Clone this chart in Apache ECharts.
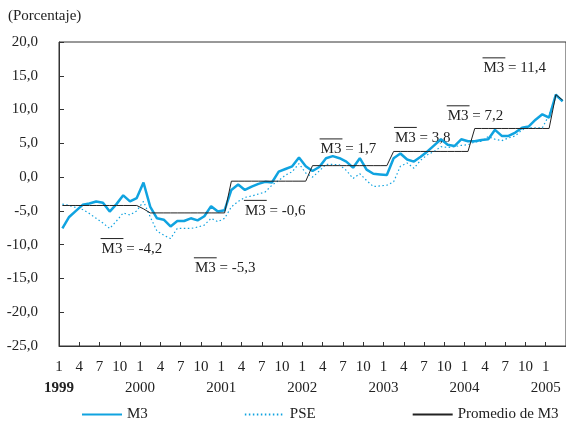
<!DOCTYPE html>
<html>
<head>
<meta charset="utf-8">
<script src="https://cdn.jsdelivr.net/npm/echarts@6/dist/echarts.min.js"></script>
<style>
  html, body { margin: 0; padding: 0; background: #fff; }
  #chart { width: 566px; height: 427px; }
</style>
</head>
<body>
<div id="chart"></div>
<script>
// Monthly growth rates, January 1999 to March 2005 (percent)
const years = ['1999', '2000', '2001', '2002', '2003', '2004', '2005'];

const m3 = [
  -7.6, -5.9, -5.0, -4.1, -3.9, -3.6, -3.8, -5.1, -4.0, -2.7, -3.6, -3.1,
  -0.8, -4.4, -6.1, -6.3, -7.3, -6.5, -6.5, -6.1, -6.4, -5.8, -4.3, -5.1,
  -4.9, -1.9, -1.1, -1.9, -1.4, -1.0, -0.7, -0.8, 0.8, 1.2, 1.6, 2.9,
  1.6, 0.9, 1.5, 2.8, 3.1, 2.8, 2.3, 1.4, 2.8, 1.1, 0.5, 0.4,
  0.3, 2.8, 3.5, 2.6, 2.3, 3.0, 3.8, 4.7, 5.6, 4.8, 4.6, 5.6,
  5.3, 5.3, 5.5, 5.6, 7.0, 6.1, 6.1, 6.6, 7.3, 7.5, 8.5, 9.3,
  8.8, 12.2, 11.2
];

const pse = [
  -4.0, -4.2, -4.5, -4.8, -5.4, -6.1, -6.8, -7.6, -6.5, -5.3, -5.6, -5.0,
  -3.6, -5.9, -8.0, -8.6, -9.1, -7.6, -7.6, -7.6, -7.4, -7.1, -6.1, -6.6,
  -6.1, -4.4, -3.6, -3.0, -2.8, -2.5, -2.2, -1.2, -0.5, 0.3, 0.8, 2.0,
  0.6, 0.0, 0.9, 1.9, 1.9, 1.8, 1.0, -0.2, 0.5, -0.5, -1.4, -1.3,
  -1.2, -0.7, 1.6, 2.1, 1.3, 2.5, 3.3, 3.8, 4.5, 4.4, 4.5, 4.7,
  4.8, 5.2, 5.3, 6.0, 5.6, 5.4, 5.8, 6.1, 7.0, 7.3, 7.3, 7.3,
  9.2, 11.9, 11.4
];

// Annual mean of M3, repeated over each month of the year
const promedio = [
  -4.2, -4.2, -4.2, -4.2, -4.2, -4.2, -4.2, -4.2, -4.2, -4.2, -4.2, -4.2,
  -4.7, -5.3, -5.3, -5.3, -5.3, -5.3, -5.3, -5.3, -5.3, -5.3, -5.3, -5.3,
  -5.3, -0.6, -0.6, -0.6, -0.6, -0.6, -0.6, -0.6, -0.6, -0.6, -0.6, -0.6,
  -0.6, 1.7, 1.7, 1.7, 1.7, 1.7, 1.7, 1.7, 1.7, 1.7, 1.7, 1.7,
  1.7, 3.8, 3.8, 3.8, 3.8, 3.8, 3.8, 3.8, 3.8, 3.8, 3.8, 3.8,
  3.8, 7.2, 7.2, 7.2, 7.2, 7.2, 7.2, 7.2, 7.2, 7.2, 7.2, 7.2,
  7.2, 12.2, 11.4
];

// Annual mean labels
const meanLabels = ['-4,2', '-5,3', '-0,6', '1,7', '3,8', '7,2', '11,4'];
// Where each mean label sits: [month on the axis, value]
const meanLabelAt = [
  [6.3, -10.65], [20.1, -13.5], [27.5, -5.0], [38.7, 4.1],
  [49.7, 5.8], [57.5, 9.0], [62.8, 16.1]
];

const FONT = '"Liberation Serif", "Times New Roman", serif';
const INK = '#222';
const BLUE = '#10a3e0';

const toPoints = arr => arr.map((v, i) => [i + 0.5, v]);
const comma1 = v => v.toFixed(1).replace('.', ',');

const chart = echarts.init(document.getElementById('chart'), null, { renderer: 'canvas' });

chart.setOption({
  animation: false,
  backgroundColor: '#fff',
  title: {
    text: '(Porcentaje)',
    left: 3, top: 4,
    textStyle: { fontFamily: FONT, fontSize: 15, fontWeight: 'normal', color: INK }
  },
  grid: {
    left: 59, right: -3, top: 42, bottom: 81,
    show: true, borderColor: '#333', borderWidth: 1, backgroundColor: 'transparent'
  },
  legend: {
    left: 76, top: 402,
    itemWidth: 40, itemHeight: 12, itemGap: 96,
    itemStyle: { opacity: 0 },
    textStyle: { fontFamily: FONT, fontSize: 15, color: INK },
    data: ['M3', 'PSE', 'Promedio de M3']
  },
  xAxis: [
    {
      type: 'value', min: 0, max: 75, interval: 3,
      axisLine: { show: true, onZero: false, lineStyle: { color: '#333', width: 1 } },
      axisTick: { show: true, inside: true, length: 4, lineStyle: { color: '#333' } },
      splitLine: { show: false },
      axisLabel: {
        showMaxLabel: false, margin: 14,
        fontFamily: FONT, fontSize: 15, color: INK,
        formatter: v => String((v % 12) + 1)
      }
    },
    {
      type: 'value', min: 0, max: 75, interval: 12,
      position: 'bottom', offset: 35,
      axisLine: { show: false }, axisTick: { show: false }, splitLine: { show: false },
      axisLabel: {
        showMaxLabel: false, margin: 0,
        fontFamily: FONT, fontSize: 15, color: INK,
        formatter: v => {
          const y = years[Math.round(v / 12)];
          return v === 0 ? '{b|' + y + '}' : y;
        },
        rich: { b: { fontFamily: FONT, fontSize: 15, fontWeight: 'bold', color: INK } }
      }
    }
  ],
  yAxis: {
    type: 'value', min: -25, max: 20, interval: 5,
    axisLine: { show: true, lineStyle: { color: '#333', width: 1 } },
    axisTick: { show: true, inside: true, length: 5, lineStyle: { color: '#333' } },
    splitLine: { show: false },
    axisLabel: { margin: 21, fontFamily: FONT, fontSize: 15, color: INK, formatter: comma1 }
  },
  series: [
    {
      name: 'M3', type: 'line', data: toPoints(m3),
      symbol: 'none', lineStyle: { color: BLUE, width: 2.5 }, itemStyle: { color: BLUE },
      z: 3
    },
    {
      name: 'PSE', type: 'line', data: toPoints(pse),
      symbol: 'none', lineStyle: { color: BLUE, width: 1.2, type: [1.5, 2.5] }, itemStyle: { color: BLUE },
      z: 2
    },
    {
      name: 'Promedio de M3', type: 'line', data: toPoints(promedio),
      symbol: 'none', lineStyle: { color: INK, width: 1 }, itemStyle: { color: INK },
      z: 4
    }
  ]
});

// Mean labels: "M3" with a bar over it, followed by the value
const measure = document.createElement('canvas').getContext('2d');
measure.font = '15px ' + FONT;
const barW = measure.measureText('M3').width + 2;

const notes = meanLabels.map((txt, k) => {
  const [px, py] = chart.convertToPixel({ seriesIndex: 0 }, meanLabelAt[k]);
  return {
    type: 'group',
    children: [
      {
        type: 'text',
        style: { text: 'M3 = ' + txt, x: px, y: py, font: '15px ' + FONT, fill: INK, verticalAlign: 'middle' }
      },
      {
        type: 'line',
        shape: { x1: px - 1, y1: py - 10.5, x2: px - 1 + barW, y2: py - 10.5 },
        style: { stroke: INK, lineWidth: 1 }
      }
    ]
  };
});
chart.setOption({ graphic: notes });
</script>
</body>
</html>
